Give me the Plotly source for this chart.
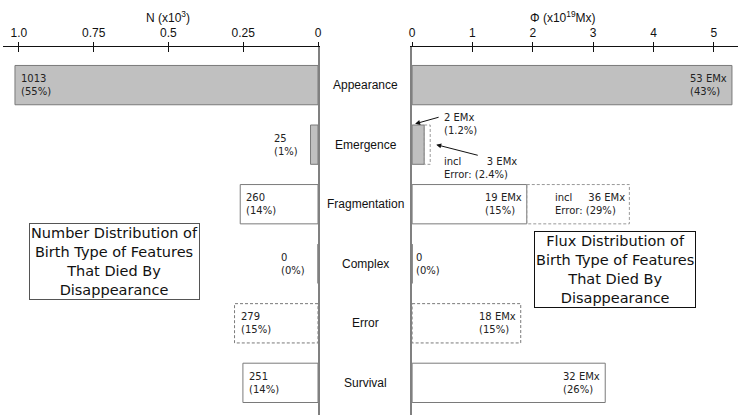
import plotly.graph_objects as go

# ---------------- data ----------------
categories = ["Appearance", "Emergence", "Fragmentation", "Complex", "Error", "Survival"]
number_k = [1.013, 0.025, 0.260, 0.0, 0.279, 0.251]          # N (x10^3)
flux = [5.3, 0.2, 1.9, 0.0, 1.8, 3.2]                         # Phi (x10^19 Mx)
flux_incl_error = [None, 0.3, 3.6, None, None, None]          # incl. Error
number_labels = ["1013<br>(55%)", "25<br>(1%)", "260<br>(14%)", "0<br>(0%)", "279<br>(15%)", "251<br>(14%)"]
flux_labels = ["53 EMx<br>(43%)", "2 EMx<br>(1.2%)", "19 EMx<br>(15%)", "0<br>(0%)", "18 EMx<br>(15%)", "32 EMx<br>(26%)"]
NB = "\u00a0"
flux_incl_labels = [None, "incl" + NB * 8 + "3 EMx<br>Error: (2.4%)",
                    "incl" + NB * 5 + "36 EMx<br>Error: (29%)", None, None, None]
n_ticks = [1.0, 0.75, 0.5, 0.25, 0]
n_ticktext = ["1.0", "0.75", "0.5", "0.25", "0"]
f_ticks = [0, 1, 2, 3, 4, 5]
is_error = [c == "Error" for c in categories]
is_gray = [c in ("Appearance", "Emergence") for c in categories]

# ---------------- style ----------------
W, H = 742, 415
GRAY_FILL = "#c0c0c0"
OUTLINE = "#7a7a7a"
SANS = "Liberation Sans, Arial, sans-serif"
VERD = "DejaVu Sans, Verdana, sans-serif"
idx = list(range(len(categories)))
left_dom = [0, 318 / W]
right_dom = [413 / W, 1]
y_dom = [0, 1 - 47 / H]
y_range = [5.54, -0.64]
bw = 0.66

fig = go.Figure()

fill_colors = [GRAY_FILL if g else "white" for g in is_gray]
line_w = [0 if e else 1 for e in is_error]

fig.add_trace(go.Bar(orientation="h", y=idx, x=number_k, xaxis="x", yaxis="y", width=bw,
                     marker=dict(color=fill_colors, line=dict(color=OUTLINE, width=line_w)),
                     hoverinfo="skip", showlegend=False))
fig.add_trace(go.Bar(orientation="h", y=idx, x=flux, xaxis="x2", yaxis="y2", width=bw,
                     marker=dict(color=fill_colors, line=dict(color=OUTLINE, width=line_w)),
                     hoverinfo="skip", showlegend=False))
# overlay axes for ticks crossing the axis line
fig.add_trace(go.Scatter(x=[None], y=[None], xaxis="x3", yaxis="y", showlegend=False, hoverinfo="skip"))
fig.add_trace(go.Scatter(x=[None], y=[None], xaxis="x4", yaxis="y2", showlegend=False, hoverinfo="skip"))

shapes = []
dash = "3px,2px"
for i in idx:
    if is_error[i]:
        shapes.append(dict(type="rect", xref="x", yref="y", x0=0, x1=number_k[i],
                           y0=i - bw / 2, y1=i + bw / 2, line=dict(color=OUTLINE, width=1, dash=dash)))
        shapes.append(dict(type="rect", xref="x2", yref="y2", x0=0, x1=flux[i],
                           y0=i - bw / 2, y1=i + bw / 2, line=dict(color=OUTLINE, width=1, dash=dash)))
    if flux_incl_error[i] is not None:
        shapes.append(dict(type="rect", xref="x2", yref="y2", x0=flux[i], x1=flux_incl_error[i],
                           y0=i - bw / 2, y1=i + bw / 2, line=dict(color="#999999", width=1, dash=dash)))

ann = []
tfont = dict(family=VERD, size=10, color="#222")
for i in idx:
    # category labels in the gap
    ann.append(dict(x=366 / W, xref="paper", y=i, yref="y", text=categories[i], showarrow=False,
                    font=dict(family=SANS, size=12, color="#111"), xanchor="center", yanchor="middle"))
    # number labels
    v = number_k[i]
    if v >= 0.1:
        ann.append(dict(x=v, xref="x", y=i, yref="y", text=number_labels[i], showarrow=False,
                        xanchor="left", xshift=4, align="left", font=tfont))
    else:
        ann.append(dict(x=v, xref="x", y=i, yref="y", text=number_labels[i], showarrow=False,
                        xanchor="right", xshift=-11, align="left", font=tfont))
    # flux labels
    f = flux[i]
    if flux_incl_error[i] is not None and f < 1:
        ann.append(dict(x=flux_incl_error[i], xref="x2", y=i, yref="y2", text=flux_labels[i],
                        showarrow=False, xanchor="left", xshift=12, yshift=21, align="left", font=tfont))
        ann.append(dict(x=flux_incl_error[i], xref="x2", y=i, yref="y2", text=flux_incl_labels[i],
                        showarrow=False, xanchor="left", xshift=12, yshift=-23, align="left", font=tfont))
        # arrows
        ann.append(dict(x=0.05, xref="x2", y=i - 0.35, yref="y2", text="", showarrow=True,
                        ax=25, ay=-7, arrowhead=2, arrowsize=1, arrowwidth=1, arrowcolor="#111"))
        ann.append(dict(x=flux_incl_error[i] + 0.1, xref="x2", y=i, yref="y2", text="", showarrow=True,
                        ax=43, ay=11, arrowhead=2, arrowsize=1, arrowwidth=1, arrowcolor="#111"))
    elif f >= 1:
        ann.append(dict(x=f, xref="x2", y=i, yref="y2", text=flux_labels[i], showarrow=False,
                        xanchor="right", xshift=-3, align="left", font=tfont))
        if flux_incl_error[i] is not None:
            ann.append(dict(x=flux_incl_error[i], xref="x2", y=i, yref="y2", text=flux_incl_labels[i],
                            showarrow=False, xanchor="right", xshift=-2, align="left", font=tfont))
    else:
        ann.append(dict(x=f, xref="x2", y=i, yref="y2", text=flux_labels[i], showarrow=False,
                        xanchor="left", xshift=2, align="left", font=tfont))

# axis titles
ann.append(dict(x=0.5, xref="x", y=1 - 17 / H, yref="paper", text="N (x10<sup>3</sup>)",
                xanchor="center", yanchor="middle",
                showarrow=False, font=dict(family=SANS, size=12, color="#111")))
ann.append(dict(x=2.5, xref="x2", y=1 - 17 / H, yref="paper", text="\u03a6 (x10<sup>19</sup>Mx)",
                xanchor="center", yanchor="middle",
                showarrow=False, font=dict(family=SANS, size=12, color="#111")))
# boxed descriptions
ann.append(dict(x=112.5 / W, xref="paper", y=1 - 261.5 / H, yref="paper",
                xanchor="center", yanchor="middle",
                text="Number Distribution of<br>Birth Type of Features<br>That Died By<br>Disappearance",
                showarrow=False, font=dict(family=VERD, size=14.5, color="#111"),
                bordercolor="#555", borderwidth=1, borderpad=1, bgcolor="white"))
ann.append(dict(x=618 / W, xref="paper", y=1 - 269 / H, yref="paper",
                xanchor="center", yanchor="middle",
                text="Flux Distribution of<br>Birth Type of Features<br>That Died By<br>Disappearance",
                showarrow=False, font=dict(family=VERD, size=14.5, color="#111"),
                bordercolor="#111", borderwidth=1, borderpad=1, bgcolor="white"))

tickfont = dict(family=SANS, size=12, color="#111")
common_x = dict(side="top", showgrid=False, zeroline=False, fixedrange=True)
fig.update_layout(
    width=W, height=H, autosize=False,
    margin=dict(l=0, r=0, t=0, b=0),
    paper_bgcolor="white", plot_bgcolor="rgba(0,0,0,0)",
    showlegend=False, barmode="overlay",
    xaxis=dict(domain=left_dom, range=[1.053, 0], anchor="y", tickvals=n_ticks, ticktext=n_ticktext,
               showline=True, linecolor="#111", linewidth=1, ticks="inside", ticklen=5,
               tickcolor="#111", tickfont=tickfont, ticklabelstandoff=4, **common_x),
    xaxis3=dict(domain=left_dom, range=[1.053, 0], anchor="y", overlaying="x", tickvals=n_ticks,
                showticklabels=False, showline=False, ticks="outside", ticklen=4, tickcolor="#111", **common_x),
    xaxis2=dict(domain=right_dom, range=[0, 5.4], anchor="y2", tickvals=f_ticks,
                showline=True, linecolor="#111", linewidth=1, ticks="inside", ticklen=5,
                tickcolor="#111", tickfont=tickfont, ticklabelstandoff=4, **common_x),
    xaxis4=dict(domain=right_dom, range=[0, 5.4], anchor="y2", overlaying="x2", tickvals=f_ticks,
                showticklabels=False, showline=False, ticks="outside", ticklen=4, tickcolor="#111", **common_x),
    yaxis=dict(domain=y_dom, range=y_range, anchor="x", side="right", showline=True, linecolor="#808080",
               linewidth=2, showticklabels=False, ticks="", showgrid=False, zeroline=False, fixedrange=True),
    yaxis2=dict(domain=y_dom, range=y_range, anchor="x2", side="left", showline=True, linecolor="#808080",
                linewidth=2, showticklabels=False, ticks="", showgrid=False, zeroline=False, fixedrange=True),
    shapes=shapes, annotations=ann,
)

fig.write_html("out.html", config={"displayModeBar": False},
               post_script="document.body.style.margin='0';document.body.style.overflow='hidden';")
